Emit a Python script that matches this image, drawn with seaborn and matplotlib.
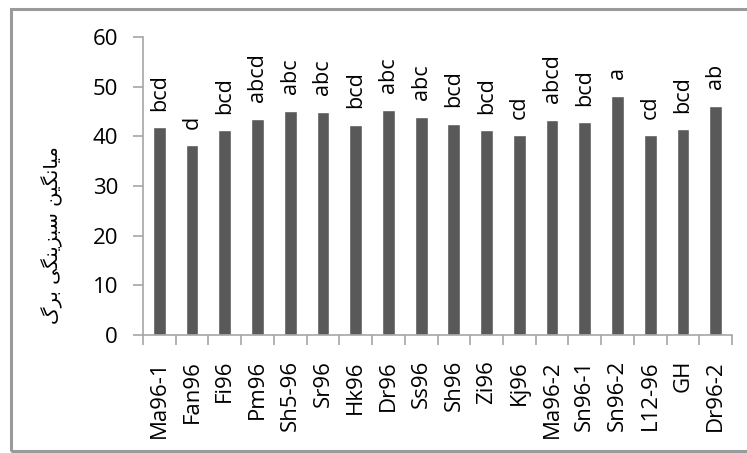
import matplotlib
matplotlib.use("Agg")
import matplotlib.pyplot as plt
import seaborn as sns
import pandas as pd
from matplotlib.patches import Rectangle

genotypes = ["Ma96-1", "Fan96", "Fi96", "Pm96", "Sh5-96", "Sr96", "Hk96", "Dr96",
             "Ss96", "Sh96", "Zi96", "Kj96", "Ma96-2", "Sn96-1", "Sn96-2", "L12-96",
             "GH", "Dr96-2"]
greenness = [41.8, 38.2, 41.2, 43.5, 45.1, 44.9, 42.3, 45.3, 43.9, 42.5, 41.2, 40.2,
             43.3, 42.8, 48.2, 40.2, 41.4, 46.1]
groups = ["bcd", "d", "bcd", "abcd", "abc", "abc", "bcd", "abc", "abc", "bcd", "bcd",
          "cd", "abcd", "bcd", "a", "cd", "bcd", "ab"]
y_ticks = [0, 10, 20, 30, 40, 50, 60]
y_title = "میانگین سبزینگی برگ"

# Contextual forms for the Persian letters used in the axis title
FORMS = {
    "م": ("\uFEE1", "\uFEE2", "\uFEE3", "\uFEE4"),
    "ی": ("\uFBFC", "\uFBFD", "\uFBFE", "\uFBFF"),
    "ا": ("\uFE8D", "\uFE8E"),
    "ن": ("\uFEE5", "\uFEE6", "\uFEE7", "\uFEE8"),
    "گ": ("\uFB92", "\uFB93", "\uFB94", "\uFB95"),
    "س": ("\uFEB1", "\uFEB2", "\uFEB3", "\uFEB4"),
    "ب": ("\uFE8F", "\uFE90", "\uFE91", "\uFE92"),
    "ز": ("\uFEAF", "\uFEB0"),
    "ر": ("\uFEAD", "\uFEAE"),
}


def shape_rtl(text):
    out = []
    for i, ch in enumerate(text):
        f = FORMS.get(ch)
        if f is None:
            out.append(ch)
            continue
        prev = text[i - 1] if i > 0 else ""
        nxt = text[i + 1] if i + 1 < len(text) else ""
        join_prev = prev in FORMS and len(FORMS[prev]) == 4
        join_next = len(f) == 4 and nxt in FORMS
        if join_prev and join_next:
            out.append(f[3])
        elif join_prev:
            out.append(f[1])
        elif join_next:
            out.append(f[2])
        else:
            out.append(f[0])
    return "".join(reversed(out))


sns.set_theme(style="white")
plt.rcParams["font.family"] = ["Open Sans", "DejaVu Sans"]

df = pd.DataFrame({"genotype": genotypes, "greenness": greenness})

fig = plt.figure(figsize=(7.47, 4.53), dpi=100)
ax = fig.add_axes([143 / 747, 1 - 335 / 453, (732 - 143) / 747, (335 - 37) / 453])

sns.barplot(data=df, x="genotype", y="greenness", color="#595959", saturation=1,
            width=0.39, ax=ax)

for i, (v, g) in enumerate(zip(greenness, groups)):
    ax.annotate(g, (i, v), xytext=(0, 12), textcoords="offset points",
                rotation=90, ha="center", va="bottom", fontsize=15.5, color="black")

ax.set_ylim(0, 60)
ax.set_xlim(-0.5, len(genotypes) - 0.5)
ax.set_yticks(y_ticks)
ax.set_yticklabels([str(t) for t in y_ticks], fontsize=16, color="black")
ax.set_xticks(range(len(genotypes)))
ax.set_xticklabels(genotypes, rotation=90, fontsize=16, color="black")
ax.set_xticks([i - 0.5 for i in range(len(genotypes) + 1)], minor=True)
ax.tick_params(axis="x", which="major", length=0, pad=18)
ax.tick_params(axis="x", which="minor", length=7, width=1.2, color="#a6a6a6",
               direction="out", bottom=True)
ax.tick_params(axis="y", which="major", length=7, width=1.2, color="#a6a6a6",
               direction="out", left=True, pad=11)
ax.set_xlabel("")
ax.set_ylabel("")

for side in ["top", "right"]:
    ax.spines[side].set_visible(False)
for side in ["left", "bottom"]:
    ax.spines[side].set_color("#a6a6a6")
    ax.spines[side].set_linewidth(1.2)

fig.text(52 / 747, 1 - 235 / 453, shape_rtl(y_title), rotation=90, ha="center",
         va="center", fontsize=14, family=["DejaVu Sans"], color="black")

# Outer chart frame
fig.patches.append(Rectangle((11 / 747, 1 - 451 / 453), 760 / 747, 442 / 453,
                             transform=fig.transFigure, fill=False,
                             edgecolor="#9a9a9a", linewidth=2.2, zorder=0))

fig.savefig("out.png", dpi=100)
